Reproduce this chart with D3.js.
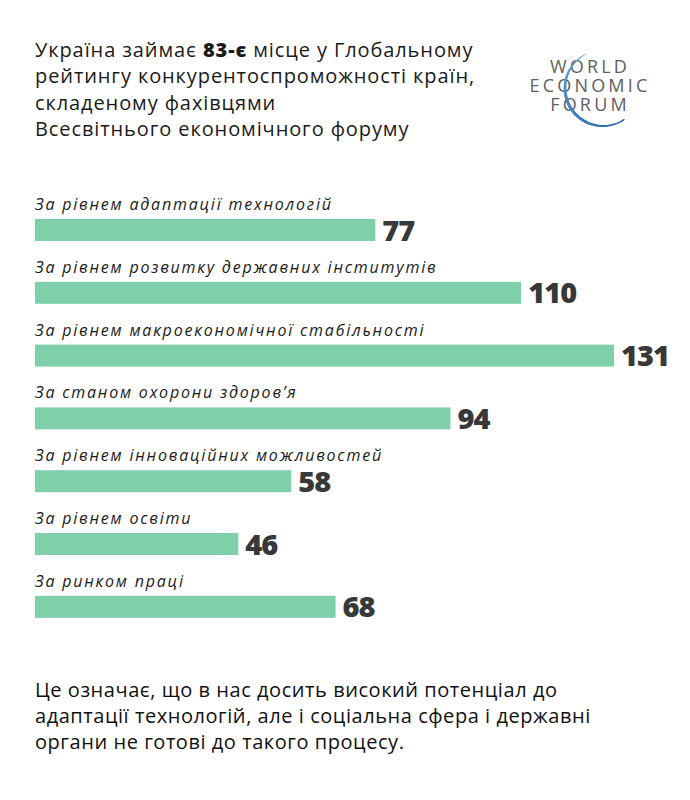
<!DOCTYPE html>
<html>
<head>
<meta charset="utf-8">
<script src="https://cdn.jsdelivr.net/npm/d3@7"></script>
<style>
  html, body { margin: 0; padding: 0; background: #fff; }
  svg { display: block; }
</style>
</head>
<body>
<div id="chart"></div>
<script>
const categories = [
  "За рівнем адаптації технологій",
  "За рівнем розвитку державних інститутів",
  "За рівнем макроекономічної стабільності",
  "За станом охорони здоров’я",
  "За рівнем інноваційних можливостей",
  "За рівнем освіти",
  "За ринком праці"
];
const ranks = [77, 110, 131, 94, 58, 46, 68];
const titleLines = [
  [["Україна займає ", false], ["83-є", true], [" місце у Глобальному", false]],
  [["рейтингу конкурентоспроможності країн,", false]],
  [["складеному фахівцями", false]],
  [["Всесвітнього економічного форуму", false]]
];
const footerLines = [
  "Це означає, що в нас досить високий потенціал до",
  "адаптації технологій, але і соціальна сфера і державні",
  "органи не готові до такого процесу."
];
const logoLines = ["WORLD", "ECONOMIC", "FORUM"];

const W = 690, H = 800;
const svg = d3.select("#chart").append("svg").attr("width", W).attr("height", H);
svg.append("rect").attr("width", W).attr("height", H).attr("fill", "#fff");

const FONT = "'Open Sans', 'Noto Sans', sans-serif";

// Title
const title = svg.append("text")
  .attr("font-family", FONT).attr("font-size", 20).attr("fill", "#1a1a1a")
  .attr("letter-spacing", 0.9);
titleLines.forEach((line, i) => {
  const t = title.append("tspan").attr("x", 35).attr("y", 57 + i * 26.3);
  line.forEach(([txt, bold], j) => {
    const s = j === 0 ? t : title.append("tspan");
    s.text(txt).attr("font-weight", bold ? 800 : 400);
  });
});

// Logo
const logo = svg.append("g");
logoLines.forEach((l, i) => {
  logo.append("text")
    .attr("x", 590).attr("y", 73 + i * 19)
    .attr("text-anchor", "middle")
    .attr("font-family", FONT).attr("font-size", 18).attr("font-weight", 400)
    .attr("letter-spacing", 3.2).attr("fill", "#606060")
    .text(l);
});
const cx = 603, cy = 88, r = 38;
const a0 = -26.5 * Math.PI / 180, a1 = -213.5 * Math.PI / 180;
const nSeg = 40;
d3.range(nSeg).forEach(k => {
  const t0 = a0 + (a1 - a0) * k / nSeg, t1 = a0 + (a1 - a0) * (k + 1) / nSeg;
  const f = k / nSeg;
  const w = 0.8 + 2.2 * Math.sin(Math.PI * Math.min(1, f * 1.15) * 0.9);
  svg.append("line")
    .attr("x1", cx + r * Math.sin(t0)).attr("y1", cy - r * Math.cos(t0))
    .attr("x2", cx + r * Math.sin(t1)).attr("y2", cy - r * Math.cos(t1))
    .attr("stroke", d3.interpolateRgb("#6aa3d8", "#1f5fa8")(f))
    .attr("stroke-width", w).attr("stroke-linecap", "round");
});

// Scales
const x = d3.scaleLinear().domain([0, 131]).range([35, 614]);
const y = d3.scaleBand().domain(categories).range([219, 617.8]).paddingInner(0.65).paddingOuter(0);

const rows = categories.map((c, i) => ({ c, v: ranks[i] }));
const g = svg.append("g");
g.selectAll("rect.bar").data(rows).join("rect")
  .attr("class", "bar")
  .attr("x", x(0)).attr("y", d => y(d.c))
  .attr("width", d => x(d.v) - x(0)).attr("height", y.bandwidth())
  .attr("fill", "#7fcfaa");

g.selectAll("text.cat").data(rows).join("text")
  .attr("class", "cat")
  .attr("x", 35).attr("y", d => y(d.c) - 9)
  .attr("font-family", FONT).attr("font-size", 16).attr("font-style", "italic")
  .attr("letter-spacing", 1.8).attr("fill", "#1a1a1a")
  .text(d => d.c);

g.selectAll("text.val").data(rows).join("text")
  .attr("class", "val")
  .attr("x", d => x(d.v) + 7).attr("y", d => y(d.c) + 21.5)
  .attr("font-family", FONT).attr("font-size", 29).attr("font-weight", 800)
  .attr("letter-spacing", -1).attr("fill", "#383838")
  .text(d => d.v);

// Footer
const foot = svg.append("text")
  .attr("font-family", FONT).attr("font-size", 20).attr("fill", "#111")
  .attr("letter-spacing", 0.55);
footerLines.forEach((l, i) => {
  foot.append("tspan").attr("x", 35).attr("y", 697 + i * 26).text(l);
});
</script>
</body>
</html>
